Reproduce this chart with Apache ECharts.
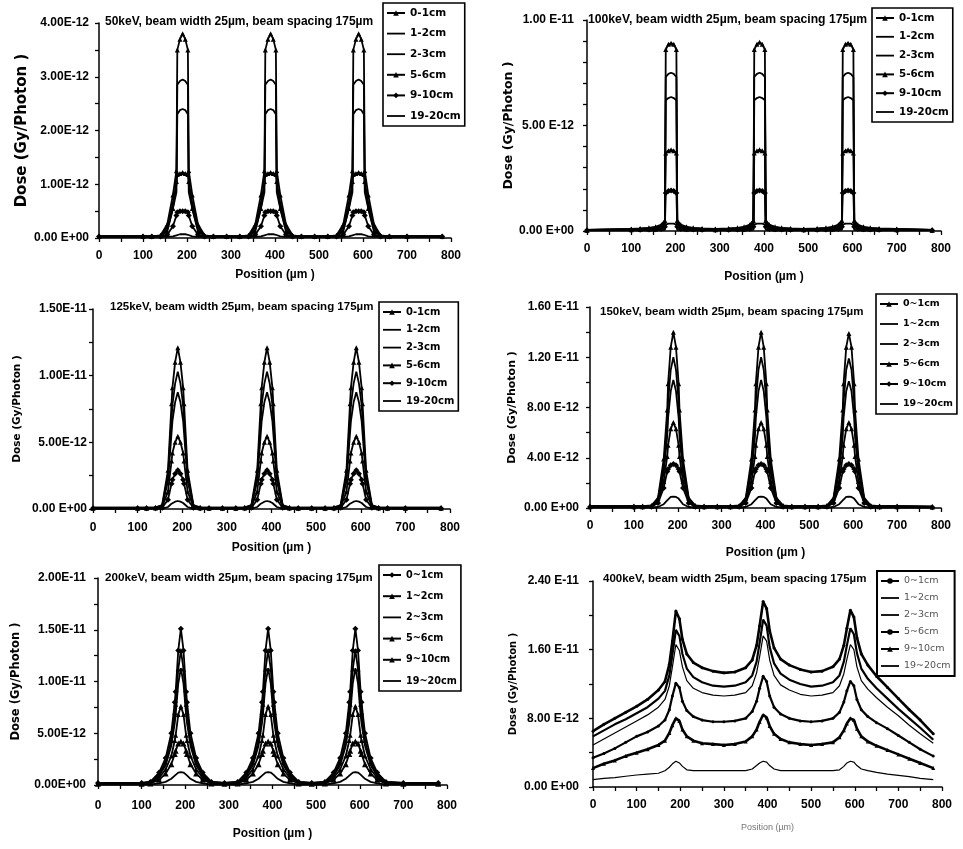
<!DOCTYPE html>
<html><head><meta charset="utf-8">
<script src="https://cdn.jsdelivr.net/npm/echarts@6.0.0/dist/echarts.min.js"></script>
<style>html,body{margin:0;padding:0;background:#fff}#c{width:963px;height:849px}</style>
</head><body><div id="c"></div>
<script>
// ---------- DATA (dose values in units of 1E-12 Gy/Photon) ----------
const xPeak = [0,100,
 120,140,155,168,176,178,184,190,196,202,204,212,225,240,260, 290,
 320,340,355,368,376,378,384,390,396,402,404,412,425,440,460, 490,
 520,540,555,568,576,578,584,590,596,602,604,612,625,640,660, 700,780];
const x400 = [0,25,50,75,100,125,150,165,175,182,190,198,205,215,230,250,275,300,325,350,
 365,375,382,390,398,405,415,430,450,475,500,525,550,565,575,582,590,598,605,615,630,650,675,700,725,750,780];
const xTickLabels = ['0','100','200','300','400','500','600','700','800'];
const depthNamesA = ['0-1cm','1-2cm','2-3cm','5-6cm','9-10cm','19-20cm'];
const depthNamesB = ['0~1cm','1~2cm','2~3cm','5~6cm','9~10cm','19~20cm'];
const titles = ['50keV, beam width 25µm, beam spacing 175µm','100keV, beam width 25µm, beam spacing 175µm',
 '125keV, beam width 25µm, beam spacing 175µm','150keV, beam width 25µm, beam spacing 175µm',
 '200keV, beam width 25µm, beam spacing 175µm','400keV, beam width 25µm, beam spacing 175µm'];
const yLab50 = ['0.00 E+00','1.00E-12','2.00E-12','3.00E-12','4.00E-12'];
const yLab100 = ['0.00 E+00','5.00 E-12','1.00 E-11'];
const yLab125 = ['0.00 E+00','5.00E-12','1.00E-11','1.50E-11'];
const yLab150 = ['0.00 E+00','4.00 E-12','8.00 E-12','1.20 E-11','1.60 E-11'];
const yLab200 = ['0.00E+00','5.00E-12','1.00E-11','1.50E-11','2.00E-11'];
const yLab400 = ['0.00 E+00','8.00 E-12','1.60 E-11','2.40 E-11'];

const dose50 = [
 [0.03,0.03, 0.03,0.05,0.25,0.8,1.25,3.5,3.7,3.8,3.7,3.5,1.25,0.8,0.25,0.05,0.03, 0.03, 0.03,0.05,0.25,0.8,1.25,3.5,3.7,3.8,3.7,3.5,1.25,0.8,0.25,0.05,0.03, 0.03, 0.03,0.05,0.25,0.8,1.25,3.5,3.7,3.8,3.7,3.5,1.25,0.8,0.25,0.05,0.03, 0.03,0.03],
 [0.03,0.03, 0.03,0.04,0.2,0.65,1.0,2.85,2.92,2.95,2.92,2.85,1.0,0.65,0.2,0.04,0.03, 0.03, 0.03,0.04,0.2,0.65,1.0,2.85,2.92,2.95,2.92,2.85,1.0,0.65,0.2,0.04,0.03, 0.03, 0.03,0.04,0.2,0.65,1.0,2.85,2.92,2.95,2.92,2.85,1.0,0.65,0.2,0.04,0.03, 0.03,0.03],
 [0.03,0.03, 0.03,0.04,0.15,0.55,0.85,2.3,2.38,2.4,2.38,2.3,0.85,0.55,0.15,0.04,0.03, 0.03, 0.03,0.04,0.15,0.55,0.85,2.3,2.38,2.4,2.38,2.3,0.85,0.55,0.15,0.04,0.03, 0.03, 0.03,0.04,0.15,0.55,0.85,2.3,2.38,2.4,2.38,2.3,0.85,0.55,0.15,0.04,0.03, 0.03,0.03],
 [0.03,0.03, 0.03,0.04,0.12,0.55,1.05,1.18,1.2,1.22,1.2,1.18,1.05,0.55,0.12,0.04,0.03, 0.03, 0.03,0.04,0.12,0.55,1.05,1.18,1.2,1.22,1.2,1.18,1.05,0.55,0.12,0.04,0.03, 0.03, 0.03,0.04,0.12,0.55,1.05,1.18,1.2,1.22,1.2,1.18,1.05,0.55,0.12,0.04,0.03, 0.03,0.03],
 [0.03,0.03, 0.03,0.03,0.06,0.22,0.42,0.48,0.5,0.5,0.5,0.48,0.42,0.22,0.06,0.03,0.03, 0.03, 0.03,0.03,0.06,0.22,0.42,0.48,0.5,0.5,0.5,0.48,0.42,0.22,0.06,0.03,0.03, 0.03, 0.03,0.03,0.06,0.22,0.42,0.48,0.5,0.5,0.5,0.48,0.42,0.22,0.06,0.03,0.03, 0.03,0.03],
 [0.02,0.02, 0.02,0.02,0.02,0.03,0.05,0.06,0.07,0.07,0.07,0.06,0.05,0.03,0.02,0.02,0.02, 0.02, 0.02,0.02,0.02,0.03,0.05,0.06,0.07,0.07,0.07,0.06,0.05,0.03,0.02,0.02,0.02, 0.02, 0.02,0.02,0.02,0.03,0.05,0.06,0.07,0.07,0.07,0.06,0.05,0.03,0.02,0.02,0.02, 0.02,0.02]
];
const dose100 = [
 [0.05,0.1, 0.12,0.15,0.2,0.3,0.5,8.6,8.85,8.9,8.85,8.6,0.5,0.3,0.2,0.15,0.12, 0.1, 0.12,0.15,0.2,0.3,0.5,8.6,8.85,8.95,8.85,8.6,0.5,0.3,0.2,0.15,0.12, 0.1, 0.12,0.15,0.2,0.3,0.5,8.6,8.85,8.9,8.85,8.6,0.5,0.3,0.2,0.15,0.12, 0.1,0.05],
 [0.05,0.1, 0.1,0.13,0.18,0.25,0.45,7.3,7.45,7.5,7.45,7.3,0.45,0.25,0.18,0.13,0.1, 0.1, 0.1,0.13,0.18,0.25,0.45,7.3,7.45,7.5,7.45,7.3,0.45,0.25,0.18,0.13,0.1, 0.1, 0.1,0.13,0.18,0.25,0.45,7.3,7.45,7.5,7.45,7.3,0.45,0.25,0.18,0.13,0.1, 0.1,0.05],
 [0.05,0.08, 0.1,0.12,0.15,0.2,0.4,6.2,6.3,6.35,6.3,6.2,0.4,0.2,0.15,0.12,0.1, 0.08, 0.1,0.12,0.15,0.2,0.4,6.2,6.3,6.35,6.3,6.2,0.4,0.2,0.15,0.12,0.1, 0.08, 0.1,0.12,0.15,0.2,0.4,6.2,6.3,6.35,6.3,6.2,0.4,0.2,0.15,0.12,0.1, 0.08,0.05],
 [0.04,0.06, 0.08,0.09,0.1,0.15,0.3,3.7,3.8,3.85,3.8,3.7,0.3,0.15,0.1,0.09,0.08, 0.06, 0.08,0.09,0.1,0.15,0.3,3.7,3.8,3.85,3.8,3.7,0.3,0.15,0.1,0.09,0.08, 0.06, 0.08,0.09,0.1,0.15,0.3,3.7,3.8,3.85,3.8,3.7,0.3,0.15,0.1,0.09,0.08, 0.06,0.04],
 [0.04,0.05, 0.06,0.07,0.08,0.1,0.2,1.8,1.9,1.92,1.9,1.8,0.2,0.1,0.08,0.07,0.06, 0.05, 0.06,0.07,0.08,0.1,0.2,1.8,1.9,1.92,1.9,1.8,0.2,0.1,0.08,0.07,0.06, 0.05, 0.06,0.07,0.08,0.1,0.2,1.8,1.9,1.92,1.9,1.8,0.2,0.1,0.08,0.07,0.06, 0.05,0.04],
 [0.03,0.03, 0.03,0.03,0.03,0.04,0.05,0.3,0.35,0.35,0.35,0.3,0.05,0.04,0.03,0.03,0.03, 0.03, 0.03,0.03,0.03,0.04,0.05,0.3,0.35,0.35,0.35,0.3,0.05,0.04,0.03,0.03,0.03, 0.03, 0.03,0.03,0.03,0.04,0.05,0.3,0.35,0.35,0.35,0.3,0.05,0.04,0.03,0.03,0.03, 0.03,0.03]
];
const dose125 = [
 [0.1,0.1, 0.1,0.12,0.3,2.9,7.9,9.1,11.0,12.1,11.0,9.1,7.9,2.9,0.3,0.12,0.1, 0.1, 0.1,0.12,0.3,2.9,7.9,9.1,11.0,12.1,11.0,9.1,7.9,2.9,0.3,0.12,0.1, 0.1, 0.1,0.12,0.3,2.9,7.9,9.1,11.0,12.1,11.0,9.1,7.9,2.9,0.3,0.12,0.1, 0.1,0.1],
 [0.1,0.1, 0.1,0.11,0.25,2.5,6.7,7.8,9.4,10.3,9.4,7.8,6.7,2.5,0.25,0.11,0.1, 0.1, 0.1,0.11,0.25,2.5,6.7,7.8,9.4,10.3,9.4,7.8,6.7,2.5,0.25,0.11,0.1, 0.1, 0.1,0.11,0.25,2.5,6.7,7.8,9.4,10.3,9.4,7.8,6.7,2.5,0.25,0.11,0.1, 0.1,0.1],
 [0.08,0.08, 0.08,0.1,0.2,2.1,5.7,6.6,8.0,8.75,8.0,6.6,5.7,2.1,0.2,0.1,0.08, 0.08, 0.08,0.1,0.2,2.1,5.7,6.6,8.0,8.75,8.0,6.6,5.7,2.1,0.2,0.1,0.08, 0.08, 0.08,0.1,0.2,2.1,5.7,6.6,8.0,8.75,8.0,6.6,5.7,2.1,0.2,0.1,0.08, 0.08,0.08],
 [0.06,0.06, 0.06,0.08,0.15,1.3,3.6,4.2,5.0,5.45,5.0,4.2,3.6,1.3,0.15,0.08,0.06, 0.06, 0.06,0.08,0.15,1.3,3.6,4.2,5.0,5.45,5.0,4.2,3.6,1.3,0.15,0.08,0.06, 0.06, 0.06,0.08,0.15,1.3,3.6,4.2,5.0,5.45,5.0,4.2,3.6,1.3,0.15,0.08,0.06, 0.06,0.06],
 [0.05,0.05, 0.05,0.06,0.1,0.7,1.9,2.2,2.65,2.9,2.65,2.2,1.9,0.7,0.1,0.06,0.05, 0.05, 0.05,0.06,0.1,0.7,1.9,2.2,2.65,2.9,2.65,2.2,1.9,0.7,0.1,0.06,0.05, 0.05, 0.05,0.06,0.1,0.7,1.9,2.2,2.65,2.9,2.65,2.2,1.9,0.7,0.1,0.06,0.05, 0.05,0.05],
 [0.02,0.02, 0.02,0.02,0.03,0.15,0.4,0.45,0.55,0.6,0.55,0.45,0.4,0.15,0.03,0.02,0.02, 0.02, 0.02,0.02,0.03,0.15,0.4,0.45,0.55,0.6,0.55,0.45,0.4,0.15,0.03,0.02,0.02, 0.02, 0.02,0.02,0.03,0.15,0.4,0.45,0.55,0.6,0.55,0.45,0.4,0.15,0.03,0.02,0.02, 0.02,0.02]
];
const dose150 = [
 [0.15,0.15, 0.15,0.2,0.8,3.9,7.8,9.9,12.8,14.0,12.8,9.9,7.8,3.9,0.8,0.2,0.15, 0.15, 0.15,0.2,0.8,3.9,7.8,9.9,12.8,14.0,12.8,9.9,7.8,3.9,0.8,0.2,0.15, 0.15, 0.15,0.2,0.8,3.9,7.8,9.9,12.8,13.9,12.8,9.9,7.8,3.9,0.8,0.2,0.15, 0.15,0.1],
 [0.15,0.15, 0.15,0.18,0.7,3.3,6.7,8.5,11.0,12.0,11.0,8.5,6.7,3.3,0.7,0.18,0.15, 0.15, 0.15,0.18,0.7,3.3,6.7,8.5,11.0,12.0,11.0,8.5,6.7,3.3,0.7,0.18,0.15, 0.15, 0.15,0.18,0.7,3.3,6.7,8.5,11.0,11.9,11.0,8.5,6.7,3.3,0.7,0.18,0.15, 0.15,0.1],
 [0.12,0.12, 0.12,0.15,0.6,2.8,5.7,7.2,9.3,10.2,9.3,7.2,5.7,2.8,0.6,0.15,0.12, 0.12, 0.12,0.15,0.6,2.8,5.7,7.2,9.3,10.2,9.3,7.2,5.7,2.8,0.6,0.15,0.12, 0.12, 0.12,0.15,0.6,2.8,5.7,7.2,9.3,10.1,9.3,7.2,5.7,2.8,0.6,0.15,0.12, 0.12,0.1],
 [0.1,0.1, 0.1,0.12,0.5,2.1,4.1,5.0,6.3,6.8,6.3,5.0,4.1,2.1,0.5,0.12,0.1, 0.1, 0.1,0.12,0.5,2.1,4.1,5.0,6.3,6.8,6.3,5.0,4.1,2.1,0.5,0.12,0.1, 0.1, 0.1,0.12,0.5,2.1,4.1,5.0,6.3,6.8,6.3,5.0,4.1,2.1,0.5,0.12,0.1, 0.1,0.08],
 [0.08,0.08, 0.08,0.1,0.4,1.6,2.9,3.1,3.4,3.5,3.4,3.1,2.9,1.6,0.4,0.1,0.08, 0.08, 0.08,0.1,0.4,1.6,2.9,3.1,3.4,3.5,3.4,3.1,2.9,1.6,0.4,0.1,0.08, 0.08, 0.08,0.1,0.4,1.6,2.9,3.1,3.4,3.5,3.4,3.1,2.9,1.6,0.4,0.1,0.08, 0.08,0.06],
 [0.03,0.03, 0.03,0.04,0.08,0.3,0.6,0.75,0.88,0.9,0.88,0.75,0.6,0.3,0.08,0.04,0.03, 0.03, 0.03,0.04,0.08,0.3,0.6,0.75,0.88,0.9,0.88,0.75,0.6,0.3,0.08,0.04,0.03, 0.03, 0.03,0.04,0.08,0.3,0.6,0.75,0.88,0.9,0.88,0.75,0.6,0.3,0.08,0.04,0.03, 0.03,0.03]
];
const dose200 = [
 [0.2,0.2, 0.3,1.2,2.6,5.0,8.0,9.0,13.0,15.1,13.0,9.0,8.0,5.0,2.6,1.2,0.3, 0.2, 0.3,1.2,2.6,5.0,8.0,9.0,13.0,15.1,13.0,9.0,8.0,5.0,2.6,1.2,0.3, 0.2, 0.3,1.2,2.6,5.0,8.0,9.0,13.0,15.1,13.0,9.0,8.0,5.0,2.6,1.2,0.3, 0.2,0.2],
 [0.2,0.2, 0.3,1.0,2.2,4.3,7.0,7.8,11.2,13.0,11.2,7.8,7.0,4.3,2.2,1.0,0.3, 0.2, 0.3,1.0,2.2,4.3,7.0,7.8,11.2,13.0,11.2,7.8,7.0,4.3,2.2,1.0,0.3, 0.2, 0.3,1.0,2.2,4.3,7.0,7.8,11.2,13.0,11.2,7.8,7.0,4.3,2.2,1.0,0.3, 0.2,0.2],
 [0.18,0.18, 0.25,0.9,1.9,3.8,6.0,6.8,9.8,11.3,9.8,6.8,6.0,3.8,1.9,0.9,0.25, 0.18, 0.25,0.9,1.9,3.8,6.0,6.8,9.8,11.3,9.8,6.8,6.0,3.8,1.9,0.9,0.25, 0.18, 0.25,0.9,1.9,3.8,6.0,6.8,9.8,11.3,9.8,6.8,6.0,3.8,1.9,0.9,0.25, 0.18,0.18],
 [0.15,0.15, 0.2,0.7,1.5,2.8,4.3,4.8,6.8,7.6,6.8,4.8,4.3,2.8,1.5,0.7,0.2, 0.15, 0.2,0.7,1.5,2.8,4.3,4.8,6.8,7.6,6.8,4.8,4.3,2.8,1.5,0.7,0.2, 0.15, 0.2,0.7,1.5,2.8,4.3,4.8,6.8,7.6,6.8,4.8,4.3,2.8,1.5,0.7,0.2, 0.15,0.15],
 [0.12,0.12, 0.15,0.5,1.1,2.0,3.0,3.3,4.0,4.2,4.0,3.3,3.0,2.0,1.1,0.5,0.15, 0.12, 0.15,0.5,1.1,2.0,3.0,3.3,4.0,4.2,4.0,3.3,3.0,2.0,1.1,0.5,0.15, 0.12, 0.15,0.5,1.1,2.0,3.0,3.3,4.0,4.2,4.0,3.3,3.0,2.0,1.1,0.5,0.15, 0.12,0.12],
 [0.05,0.05, 0.05,0.15,0.3,0.6,0.9,1.0,1.2,1.25,1.2,1.0,0.9,0.6,0.3,0.15,0.05, 0.05, 0.05,0.15,0.3,0.6,0.9,1.0,1.2,1.25,1.2,1.0,0.9,0.6,0.3,0.15,0.05, 0.05, 0.05,0.15,0.3,0.6,0.9,1.0,1.2,1.25,1.2,1.0,0.9,0.6,0.3,0.15,0.05, 0.05,0.05]
];
const dose400 = [
 [6.5,7.3,8.0,8.7,9.4,10.2,11.3, 12.3,14.3,17.0,20.5,19.6,17.2,15.5,14.5,13.9, 13.5,13.3,13.4,13.9, 14.8,16.5,18.8,21.6,20.8,18.2,16.2,14.9,14.2, 13.7,13.4,13.5,14.0, 14.9,16.5,18.5,20.6,19.8,17.4,15.5,14.2,12.9, 11.6,10.3,9.0,7.8,6.2],
 [5.9,6.6,7.3,7.9,8.6,9.3,10.3, 11.2,13.0,15.4,18.3,17.6,15.5,13.8,12.8,12.2, 11.8,11.7,11.8,12.2, 13.0,14.6,16.8,19.5,18.8,16.3,14.4,13.2,12.5, 12.0,11.7,11.8,12.2, 13.0,14.6,16.5,18.5,17.8,15.6,13.8,12.6,11.5, 10.3,9.1,8.0,6.9,5.5],
 [4.9,5.6,6.3,7.0,7.7,8.4,9.3, 10.2,11.8,14.0,16.6,15.9,14.0,12.4,11.5,11.0, 10.7,10.6,10.7,11.0, 11.8,13.3,15.2,17.6,17.0,14.8,13.0,11.9,11.3, 10.8,10.6,10.7,11.0, 11.8,13.2,14.9,16.6,16.0,14.0,12.4,11.4,10.4, 9.3,8.3,7.2,6.2,5.1],
 [3.4,3.9,4.5,5.2,5.9,6.4,7.1, 7.8,9.0,10.6,12.1,11.6,10.0,8.9,8.2,7.8, 7.6,7.6,7.7,8.0, 8.8,10.0,11.5,12.9,12.3,10.6,9.3,8.5,8.0, 7.7,7.6,7.7,8.0, 8.7,9.9,11.2,12.3,11.8,10.2,9.0,8.2,7.5, 6.8,6.0,5.2,4.4,3.6],
 [2.2,2.7,3.1,3.6,4.0,4.4,4.9, 5.4,6.3,7.2,8.0,7.7,6.7,5.9,5.4,5.1, 5.0,4.9,5.0,5.3, 5.9,6.7,7.6,8.4,8.1,7.1,6.2,5.6,5.2, 5.0,4.9,5.0,5.2, 5.8,6.6,7.4,8.0,7.8,6.8,5.9,5.3,4.8, 4.3,3.8,3.3,2.8,2.2],
 [0.85,1.0,1.1,1.25,1.4,1.5,1.6, 1.9,2.3,2.7,3.0,2.8,2.4,2.0,1.9,1.9, 1.9,1.9,1.9,1.9, 2.1,2.5,2.8,3.0,2.9,2.5,2.1,1.9,1.9, 1.9,1.9,1.9,1.9, 2.0,2.4,2.8,3.0,2.9,2.5,2.1,1.9,1.7, 1.5,1.35,1.2,1.0,0.85]
];

// ---------- LAYOUT / STYLE ----------
const FONT = 'Liberation Sans, Arial, sans-serif';
const WIDE = 'DejaVu Sans, sans-serif';
const panels = [
 {data:dose50, xs:xPeak, names:depthNamesA, ylab:yLab50, max:4, iv:1, minor:2, ttSize:12, legSize:10.5,
  grid:{left:99,top:23,width:352,height:215}, leg:{left:383,top:3,h:125}, tt:{left:105,top:16},
  yGap:64, yName:15, yMargin:10, xGap:31, xMargin:12},
 {data:dose100, xs:xPeak, names:depthNamesA, ylab:yLab100, max:10, iv:5, minor:5, ttSize:12.2, legSize:10.3,
  grid:{left:587,top:20,width:354,height:211}, leg:{left:872,top:8,h:116}, tt:{left:588,top:14},
  yGap:68, yName:12.5, yMargin:13, xGap:40, xMargin:12},
 {data:dose125, xs:xPeak, names:depthNamesA, ylab:yLab125, max:15, iv:5, minor:2, ttSize:11.5, legSize:10,
  grid:{left:93,top:309,width:357,height:200}, leg:{left:379,top:302,h:111}, tt:{left:110,top:301},
  yGap:70, yName:10.5, yMargin:6, xGap:33, xMargin:13},
 {data:dose150, xs:xPeak, names:depthNamesB, ylab:yLab150, max:16, iv:4, minor:2, ttSize:11.5, legSize:9.5,
  grid:{left:590,top:307,width:351,height:201}, leg:{left:876,top:294,h:122}, tt:{left:600,top:306},
  yGap:72, yName:11, yMargin:11, xGap:39, xMargin:12},
 {data:dose200, xs:xPeak, names:depthNamesB, ylab:yLab200, max:20, iv:5, minor:2, ttSize:11.7, legSize:9.7,
  grid:{left:98,top:578,width:349,height:207}, leg:{left:379,top:565,h:128}, tt:{left:105,top:572},
  yGap:76, yName:11.5, yMargin:12, xGap:43, xMargin:15},
 {data:dose400, xs:x400, names:depthNamesB, ylab:yLab400, max:24, iv:8, minor:2, ttSize:11.5, legSize:9.5,
  grid:{left:593,top:581,width:349,height:206}, leg:{left:877,top:571,h:107}, tt:{left:603,top:573},
  yGap:75, yName:10, yMargin:14, xGap:36, xMargin:12}
];
const stPeak = [{s:'triangle',z:5,w:1.8},{s:'none',w:1.8},{s:'none',w:1.8},{s:'triangle',z:5,w:1.8},{s:'diamond',z:6,w:1.8},{s:'none',w:1.8}];
const st200 = [{s:'diamond',z:6,w:1.8},{s:'triangle',z:5,w:1.8},{s:'none',w:1.8},{s:'triangle',z:5,w:1.8},{s:'triangle',z:6,w:1.8},{s:'none',w:1.8}];
const st400 = [{s:'circle',z:3,w:2.6},{s:'none',w:2.2},{s:'none',w:1.2},{s:'circle',z:3,w:2.2},{s:'triangle',z:4,w:2.6},{s:'none',w:1.2}];
const LINE_ICON = 'path://M0,0L20,0L20,2L0,2Z';

const option = {animation:false, backgroundColor:'#fff',
  grid:[], xAxis:[], yAxis:[], series:[], legend:[], title:[]};

panels.forEach((p,i)=>{
  const tag = '\u200B'.repeat(i); // keeps each panel's legend linked to its own series
  option.grid.push(Object.assign({containLabel:false}, p.grid));
  option.title.push({text:titles[i], left:p.tt.left, top:p.tt.top, padding:0,
    textStyle:{fontFamily:FONT, fontSize:p.ttSize, fontWeight:'bold', color:'#000'}});
  option.xAxis.push({type:'value', gridIndex:i, min:0, max:800, interval:100,
    name: i===5 ? 'Position (µm)' : 'Position (µm )', nameLocation:'middle', nameGap:p.xGap,
    nameTextStyle:{fontFamily:FONT, fontSize:i===5?9:12, fontWeight:i===5?'normal':'bold', color:i===5?'#777':'#000'},
    axisLine:{lineStyle:{color:'#000', width:1.5}},
    axisTick:{length:4, lineStyle:{color:'#000', width:1.3}},
    minorTick:{show:true, splitNumber:2, length:4, lineStyle:{color:'#000', width:1.3}},
    splitLine:{show:false},
    axisLabel:{margin:p.xMargin, fontFamily:FONT, fontSize:12, fontWeight:'bold', color:'#000',
      formatter:v=>xTickLabels[Math.round(v/100)]}});
  option.yAxis.push({type:'value', gridIndex:i, min:0, max:p.max, interval:p.iv,
    name:'Dose (Gy/Photon )', nameLocation:'middle', nameGap:p.yGap, nameRotate:90,
    nameTextStyle:{fontFamily:WIDE, fontSize:p.yName, fontWeight:'bold', color:'#000'},
    axisLine:{show:true, lineStyle:{color:'#000', width:1.5}},
    axisTick:{show:true, length:4, lineStyle:{color:'#000', width:1.3}},
    minorTick:{show:true, splitNumber:p.minor, length:4, lineStyle:{color:'#000', width:1.3}},
    splitLine:{show:false},
    axisLabel:{margin:p.yMargin, fontFamily:FONT, fontSize:12, fontWeight:'bold', color:'#000',
      formatter:v=>p.ylab[Math.round(v/p.iv)]}});
  const sts = i===4 ? st200 : (i===5 ? st400 : stPeak);
  const legData = [];
  p.data.forEach((arr,k)=>{
    const st = sts[k];
    const nm = p.names[k] + tag;
    option.series.push({type:'line', name:nm, xAxisIndex:i, yAxisIndex:i,
      data:p.xs.map((x,j)=>[x, arr[j]]),
      symbol:st.s, symbolSize:st.z||0, showSymbol:st.s!=='none',
      lineStyle:{color:'#000', width:st.w}, itemStyle:{color:'#000'}});
    const item = {name:nm};
    if (st.s === 'none') item.icon = LINE_ICON;
    legData.push(item);
  });
  const itemH = 12, pad = 4;
  const gap = (p.leg.h - 2*pad - 6*itemH - 2)/5;
  option.legend.push({data:legData, orient:'vertical', left:p.leg.left, top:p.leg.top,
    padding:[pad,4,pad,3], itemGap:gap, itemWidth:18, itemHeight:7, symbolKeepAspect:true,
    borderColor:'#000', borderWidth:i===5?2:1.6, backgroundColor:'#fff',
    selectedMode:false,
    textStyle:{fontFamily:WIDE, fontSize:p.legSize, fontWeight:i===5?'normal':'bold', color:i===5?'#555':'#000', lineHeight:12}});
});

const chart = echarts.init(document.getElementById('c'), null, {renderer:'canvas'});
chart.setOption(option);
</script></body></html>
